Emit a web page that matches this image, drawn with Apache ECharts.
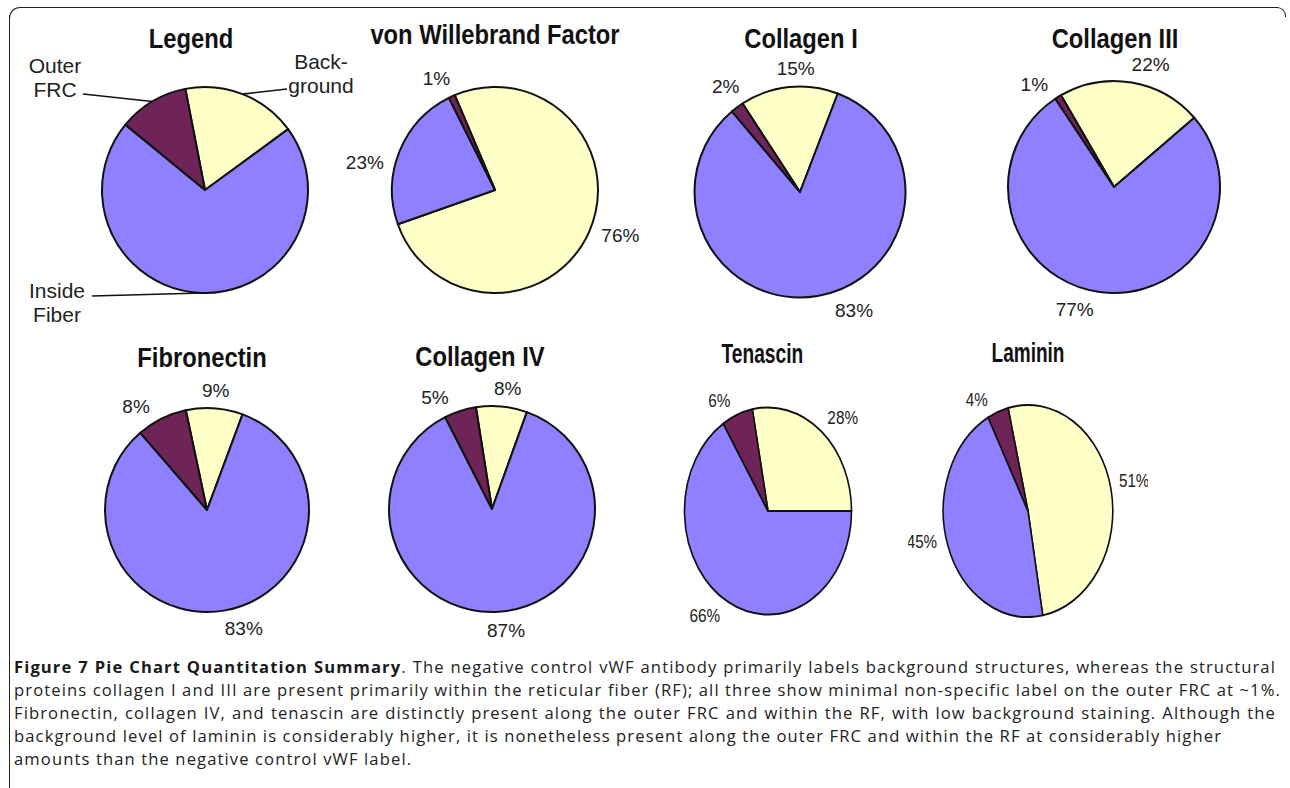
<!DOCTYPE html>
<html>
<head>
<meta charset="utf-8">
<script src="https://cdn.jsdelivr.net/npm/echarts@6/dist/echarts.min.js"></script>
<style>
  html, body { margin: 0; padding: 0; background: #fff; width: 1290px; height: 788px; overflow: hidden; }
  #frame { position: absolute; left: 9px; top: 7px; width: 1268px; height: 800px;
           border-top: 1.5px solid #222; border-left: 1.5px solid #222; border-top-left-radius: 11px; }
  #corner { position: absolute; left: 1276px; top: 7px; width: 9px; height: 9px;
            border-top: 1.5px solid #222; border-right: 1.5px solid #222; border-top-right-radius: 9px; }
  #main { position: absolute; left: 0; top: 0; width: 1290px; height: 650px; }
  .squeezed { position: absolute; top: 330px; width: 300px; height: 340px; transform-origin: 50% 50%; }
  #ten { left: 618px; transform: scaleX(0.807); }
  #lam { left: 878px; transform: scaleX(0.80); }
  #cap { position: absolute; left: 14px; top: 655px; width: 1262px; font-family: 'Open Sans', sans-serif;
         font-size: 16.6px; line-height: 23px; color: #222; }
  #cap div { white-space: nowrap; height: 23px; }
  #cap .j { text-align: justify; text-align-last: justify; }
  #cap b { font-weight: 700; color: #1a1a1a; }
</style>
</head>
<body>
<div id="frame"></div>
<div id="corner"></div>
<div id="main"></div>
<div id="ten" class="squeezed"></div>
<div id="lam" class="squeezed"></div>
<div id="cap">
  <div class="j"><b>Figure 7 Pie Chart Quantitation Summary</b>. The negative control vWF antibody primarily labels background structures, whereas the structural</div>
  <div class="j">proteins collagen I and III are present primarily within the reticular fiber (RF); all three show minimal non-specific label on the outer FRC at ~1%.</div>
  <div class="j">Fibronectin, collagen IV, and tenascin are distinctly present along the outer FRC and within the RF, with low background staining. Although the</div>
  <div id="line4">background level of laminin is considerably higher, it is nonetheless present along the outer FRC and within the RF at considerably higher</div>
  <div>amounts than the negative control vWF label.</div>
</div>
<script>
// ---------------- data ----------------
const categories = ['Background', 'Inside Fiber', 'Outer FRC'];
const chartTitles = ['Legend', 'von Willebrand Factor', 'Collagen I', 'Collagen III',
                     'Fibronectin', 'Collagen IV', 'Tenascin', 'Laminin'];
const legendLabels = ['Back-\nground', 'Inside\nFiber', 'Outer\nFRC'];
const legendValues = [18, 71, 11];
const vwfValues = [76, 23, 1];
const collagenIValues = [15, 83, 2];
const collagenIIIValues = [22, 77, 1];
const fibronectinValues = [9, 83, 8];
const collagenIVValues = [8, 87, 5];
const tenascinValues = [28, 66, 6];
const lamininValues = [51, 45, 4];

// ---------------- styles / layout ----------------
const sliceColors = ['#FFFFC8', '#8F80FF', '#6E2456'];
const TITLE_FONT = "'Liberation Sans', Arial, sans-serif";
const LABEL_FONT = "'Liberation Sans', Arial, sans-serif";

// pie geometry (pixels in the chart's own coordinate space)
const pieLayout = {
  legend:      { cx: 205,  cy: 190, r: 103,   start: 101,   tx: 191,  ty: 38 },
  vwf:         { cx: 495,  cy: 190, r: 103,   start: 113,   tx: 495,  ty: 34 },
  collagenI:   { cx: 800,  cy: 192, r: 105.5, start: 123,   tx: 801,  ty: 38 },
  collagenIII: { cx: 1114, cy: 187, r: 106,   start: 120,   tx: 1115, ty: 38 },
  fibronectin: { cx: 207,  cy: 510, r: 102,   start: 102,   tx: 202,  ty: 357 },
  collagenIV:  { cx: 492,  cy: 509, r: 103,   start: 99,    tx: 480,  ty: 356 },
  tenascin:    { cx: 150,  cy: 181, r: 103.5, start: 100.8, tx: 143,  ty: 24 },
  laminin:     { cx: 150,  cy: 181, r: 106,   start: 103.6, tx: 150,  ty: 23 }
};
// small angular nudges (degrees) for label placement: [background, inside, outer]
const labelNudge = {
  vwf: [-4, -10, -3], collagenI: [4, -15, 1.5], collagenIII: [7, 10, -6],
  fibronectin: [0, -7, -8], collagenIV: [2, -3, -9], tenascin: [5, 8, -7], laminin: [-1, 6, -9]
};
// legend annotation: label centre and leader end, relative to pie centre
const legendAnnot = [
  { lx: 116, ly: -117, ex: 82, ey: -101 },
  { lx: -148, ly: 112, ex: -113, ey: 106 },
  { lx: -150, ly: -113, ex: -122, ey: -96 }
];

function midAngle(values, i, L, nudge) {
  const total = values.reduce((a, b) => a + b, 0);
  let before = 0;
  for (let k = 0; k < i; k++) before += values[k];
  return (90 - L.start + 360 * (before + values[i] / 2) / total + (nudge || 0)) * Math.PI / 180;
}

function pctPie(values, L, nudges) {
  return {
    type: 'pie', center: [L.cx, L.cy], radius: L.r, startAngle: L.start, clockwise: true,
    avoidLabelOverlap: false, silent: true, animation: false,
    itemStyle: { borderColor: '#111', borderWidth: 2 },
    data: values.map((v, i) => ({ name: categories[i], value: v, itemStyle: { color: sliceColors[i] } })),
    label: { show: true, position: 'outside', formatter: p => p.value + '%',
             fontFamily: LABEL_FONT, fontSize: 19, color: '#222' },
    labelLine: { show: false },
    labelLayout: p => {
      const th = midAngle(values, p.dataIndex, L, nudges[p.dataIndex]);
      const s = Math.sin(th), c = Math.cos(th);
      const d = L.r + 10 + Math.abs(s) * p.labelRect.width / 2 + Math.abs(c) * 7;
      return { x: L.cx + d * s, y: L.cy - d * c, align: 'center', verticalAlign: 'middle' };
    }
  };
}

function legendPie(values, L) {
  return {
    type: 'pie', center: [L.cx, L.cy], radius: L.r, startAngle: L.start, clockwise: true,
    avoidLabelOverlap: false, silent: true, animation: false,
    itemStyle: { borderColor: '#111', borderWidth: 2 },
    data: values.map((v, i) => ({ name: legendLabels[i], value: v, itemStyle: { color: sliceColors[i] } })),
    label: { show: true, position: 'outside', formatter: '{b}', fontFamily: LABEL_FONT,
             fontSize: 21, lineHeight: 24, color: '#222', align: 'center' },
    labelLine: { show: true, length: 10, length2: 10, lineStyle: { color: '#111', width: 1.6 } },
    labelLayout: p => {
      const i = p.dataIndex, a = legendAnnot[i];
      const th = midAngle(values, i, L, 0);
      const p0 = [L.cx + L.r * Math.sin(th), L.cy - L.r * Math.cos(th)];
      const p2 = [L.cx + a.ex, L.cy + a.ey];
      return {
        x: L.cx + a.lx, y: L.cy + a.ly, align: 'center', verticalAlign: 'middle',
        labelLinePoints: [p0, [(p0[0] + p2[0]) / 2, (p0[1] + p2[1]) / 2], p2]
      };
    }
  };
}

// titles: bold text, horizontally condensed like the original figure
function titleOf(text, L) {
  return {
    type: 'text', x: L.tx, y: L.ty, scaleX: 0.88, silent: true,
    style: { text: text, fill: '#111', fontFamily: TITLE_FONT, fontSize: 27, fontWeight: 'bold',
             align: 'center', verticalAlign: 'middle' }
  };
}

const main = echarts.init(document.getElementById('main'), null, { renderer: 'svg' });
main.setOption({
  animation: false,
  graphic: [
    titleOf(chartTitles[0], pieLayout.legend),
    titleOf(chartTitles[1], pieLayout.vwf),
    titleOf(chartTitles[2], pieLayout.collagenI),
    titleOf(chartTitles[3], pieLayout.collagenIII),
    titleOf(chartTitles[4], pieLayout.fibronectin),
    titleOf(chartTitles[5], pieLayout.collagenIV)
  ],
  series: [
    legendPie(legendValues, pieLayout.legend),
    pctPie(vwfValues, pieLayout.vwf, labelNudge.vwf),
    pctPie(collagenIValues, pieLayout.collagenI, labelNudge.collagenI),
    pctPie(collagenIIIValues, pieLayout.collagenIII, labelNudge.collagenIII),
    pctPie(fibronectinValues, pieLayout.fibronectin, labelNudge.fibronectin),
    pctPie(collagenIVValues, pieLayout.collagenIV, labelNudge.collagenIV)
  ]
});

const ten = echarts.init(document.getElementById('ten'), null, { renderer: 'svg' });
ten.setOption({
  animation: false,
  graphic: [titleOf(chartTitles[6], pieLayout.tenascin)],
  series: [pctPie(tenascinValues, pieLayout.tenascin, labelNudge.tenascin)]
});

const lam = echarts.init(document.getElementById('lam'), null, { renderer: 'svg' });
lam.setOption({
  animation: false,
  graphic: [titleOf(chartTitles[7], pieLayout.laminin)],
  series: [pctPie(lamininValues, pieLayout.laminin, labelNudge.laminin)]
});

// adjust caption letter spacing so the 4th (unjustified) line has the reference width
(function fitCaption() {
  const l4 = document.getElementById('line4');
  const txt = l4.textContent;
  const span = document.createElement('span');
  span.textContent = txt;
  span.style.whiteSpace = 'nowrap';
  l4.textContent = '';
  l4.appendChild(span);
  const w = span.getBoundingClientRect().width;
  const ls = (1208 - w) / txt.length;
  document.getElementById('cap').style.letterSpacing = ls.toFixed(3) + 'px';
})();
</script>
</body>
</html>
